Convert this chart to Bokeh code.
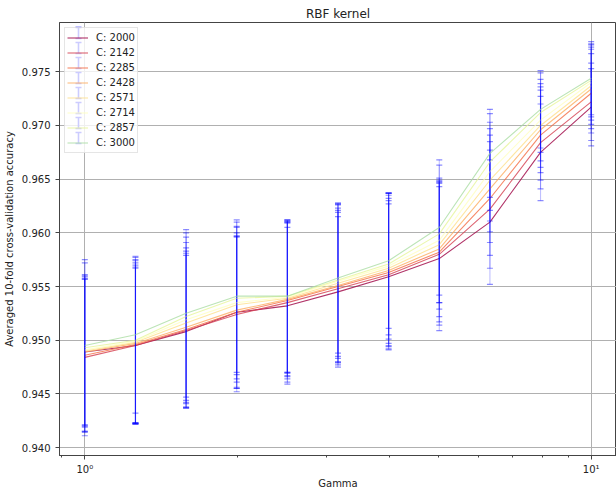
from bokeh.plotting import figure
from bokeh.models import (Range1d, FixedTicker, ColumnDataSource, Legend, LegendItem,
                          CustomJSTickFormatter, PrintfTickFormatter, Arrow, TeeHead)
from bokeh.embed import file_html
from bokeh.resources import INLINE

# ---------------- data ----------------
gammas = [1.0, 1.259, 1.585, 1.995, 2.512, 3.162, 3.981, 5.012, 6.310, 7.943, 10.0]
c_labels = ["C: 2000", "C: 2142", "C: 2285", "C: 2428", "C: 2571", "C: 2714", "C: 2857", "C: 3000"]
colors = ["#9e0142", "#d53e4f", "#f46d43", "#fdae61", "#fee08b", "#ffffbf", "#e6f598", "#abdda4"]

acc_2000 = [0.9489, 0.9495, 0.9508, 0.9526, 0.9532, 0.9545, 0.9559, 0.9576, 0.9610, 0.9675, 0.9717]
acc_2142 = [0.9484, 0.9495, 0.9509, 0.9524, 0.9535, 0.9548, 0.9561, 0.9580, 0.9622, 0.9684, 0.9722]
acc_2285 = [0.9486, 0.9496, 0.9510, 0.9526, 0.9537, 0.9550, 0.9563, 0.9582, 0.9632, 0.9691, 0.9730]
acc_2428 = [0.9489, 0.9497, 0.9512, 0.9528, 0.9538, 0.9551, 0.9565, 0.9585, 0.9641, 0.9696, 0.9734]
acc_2571 = [0.9490, 0.9498, 0.9516, 0.9533, 0.9539, 0.9553, 0.9567, 0.9589, 0.9649, 0.9700, 0.9737]
acc_2714 = [0.9491, 0.9499, 0.9519, 0.9535, 0.9540, 0.9555, 0.9569, 0.9593, 0.9657, 0.9705, 0.9740]
acc_2857 = [0.9493, 0.9500, 0.9522, 0.9539, 0.9541, 0.9556, 0.9571, 0.9599, 0.9666, 0.9712, 0.9742]
acc_3000 = [0.9495, 0.9505, 0.9525, 0.9541, 0.9541, 0.9558, 0.9574, 0.9605, 0.9674, 0.9715, 0.9744]

std_2000 = [0.0068, 0.0072, 0.0071, 0.0071, 0.0073, 0.0070, 0.0068, 0.0067, 0.0058, 0.0045, 0.0036]
std_2142 = [0.0073, 0.0073, 0.0072, 0.0072, 0.0074, 0.0071, 0.0069, 0.0066, 0.0055, 0.0043, 0.0036]
std_2285 = [0.0071, 0.0074, 0.0073, 0.0071, 0.0073, 0.0071, 0.0069, 0.0065, 0.0053, 0.0042, 0.0037]
std_2428 = [0.0070, 0.0075, 0.0074, 0.0072, 0.0072, 0.0072, 0.0070, 0.0063, 0.0050, 0.0040, 0.0037]
std_2571 = [0.0070, 0.0076, 0.0075, 0.0072, 0.0072, 0.0073, 0.0070, 0.0060, 0.0048, 0.0039, 0.0036]
std_2714 = [0.0070, 0.0076, 0.0077, 0.0071, 0.0071, 0.0072, 0.0068, 0.0058, 0.0046, 0.0038, 0.0035]
std_2857 = [0.0079, 0.0077, 0.0078, 0.0071, 0.0071, 0.0071, 0.0066, 0.0064, 0.0045, 0.0037, 0.0034]
std_3000 = [0.0080, 0.0073, 0.0078, 0.0071, 0.0071, 0.0070, 0.0063, 0.0063, 0.0041, 0.0036, 0.0034]

means = [acc_2000, acc_2142, acc_2285, acc_2428, acc_2571, acc_2714, acc_2857, acc_3000]
stds = [std_2000, std_2142, std_2285, std_2428, std_2571, std_2714, std_2857, std_3000]

y_ticks = [0.940, 0.945, 0.950, 0.955, 0.960, 0.965, 0.970, 0.975]
x_major = [1, 10]
x_minor = [0.9, 2, 3, 4, 5, 6, 7, 8, 9]

# ---------------- figure ----------------
FONT = "DejaVu Sans"
W, H = 616, 491
B_LEFT, B_RIGHT, B_TOP, B_BOTTOM = 58, 0, 22, 32
p = figure(width=W, height=H, x_axis_type="log",
           x_range=Range1d(10 ** -0.05, 10 ** 1.05),
           y_range=Range1d(0.93926, 0.97959),
           output_backend="svg", toolbar_location=None,
           min_border_left=B_LEFT, min_border_right=B_RIGHT,
           min_border_top=B_TOP, min_border_bottom=B_BOTTOM,
           title="RBF kernel")
p.background_fill_color = "white"
p.border_fill_color = "white"
p.outline_line_color = "#444444"
p.outline_line_width = 1

p.title.align = "center"
p.title.text_font = FONT
p.title.text_font_size = "12px"
p.title.text_font_style = "normal"
p.title.text_color = "#222222"
p.title.standoff = 4

p.xaxis.ticker = FixedTicker(ticks=x_major, minor_ticks=x_minor)
p.xaxis.formatter = CustomJSTickFormatter(code="return tick < 5 ? '10\u2070' : '10\u00b9';")
p.yaxis.ticker = FixedTicker(ticks=y_ticks, minor_ticks=[])
p.yaxis.formatter = PrintfTickFormatter(format="%.3f")

for ax in (p.xaxis[0], p.yaxis[0]):
    ax.axis_line_color = "#444444"
    ax.major_tick_line_color = "#444444"
    ax.minor_tick_line_color = "#444444"
    ax.major_tick_out = 4
    ax.major_tick_in = 0
    ax.minor_tick_out = 2
    ax.minor_tick_in = 0
    ax.major_label_text_font = FONT
    ax.major_label_text_font_size = "10px"
    ax.major_label_text_color = "#222222"
    ax.axis_label_text_font = FONT
    ax.axis_label_text_font_size = "10px"
    ax.axis_label_text_font_style = "normal"
    ax.axis_label_text_color = "#222222"

p.xaxis.axis_label = "Gamma"
p.yaxis.axis_label = "Averaged 10-fold cross-validation accuracy"
p.xaxis.major_label_standoff = 4
p.xaxis.axis_label_standoff = 0
p.yaxis.major_label_standoff = 5
p.yaxis.axis_label_standoff = 4

p.grid.grid_line_color = "#b0b0b0"
p.grid.grid_line_width = 1

items = []
for lab, col, m, s in zip(c_labels, colors, means, stds):
    lo = [a - b for a, b in zip(m, s)]
    hi = [a + b for a, b in zip(m, s)]
    src = ColumnDataSource(dict(x=gammas, y=m, lo=lo, hi=hi))
    lr = p.line("x", "y", source=src, line_color=col, line_width=1.1, line_alpha=0.8)
    p.segment(x0="x", y0="lo", x1="x", y1="hi", source=src,
              line_color="blue", line_alpha=0.25, line_width=1.1)
    p.scatter("x", "lo", source=src, marker="dash", size=6,
              line_color="blue", line_alpha=0.45, line_width=1.2)
    p.scatter("x", "hi", source=src, marker="dash", size=6,
              line_color="blue", line_alpha=0.45, line_width=1.2)
    items.append(LegendItem(label=lab, renderers=[lr]))

# legend layout constants
L_MARGIN, L_PAD, L_GW, L_ROW = 5, 2, 21, 15
legend = Legend(items=items, location="top_left", level="underlay")
legend.label_text_font = FONT
legend.label_text_font_size = "10px"
legend.label_text_color = "#222222"
legend.glyph_width = L_GW
legend.glyph_height = L_ROW
legend.label_height = L_ROW
legend.spacing = 0
legend.padding = L_PAD
legend.margin = L_MARGIN
legend.label_standoff = 8
legend.border_line_color = "#cccccc"
legend.background_fill_alpha = 0.8
p.add_layout(legend)

# error-bar symbols inside the legend (screen units, relative to the frame)
frame_h = H - B_TOP - B_BOTTOM
for i in range(len(c_labels)):
    cx = L_MARGIN + L_PAD + L_GW / 2 + 1.5
    cy = frame_h - (L_MARGIN + L_PAD + L_ROW / 2 + L_ROW * i)
    p.add_layout(Arrow(x_start=cx, y_start=cy - 5.5, x_end=cx, y_end=cy + 5.5,
                       start_units="screen", end_units="screen", level="overlay",
                       line_color="#0000ff", line_width=1.6, line_alpha=1.0,
                       start=TeeHead(size=6, line_color="#0000ff", line_width=1.4),
                       end=TeeHead(size=6, line_color="#0000ff", line_width=1.4)))

open("out.html", "w").write(file_html(p, INLINE))
